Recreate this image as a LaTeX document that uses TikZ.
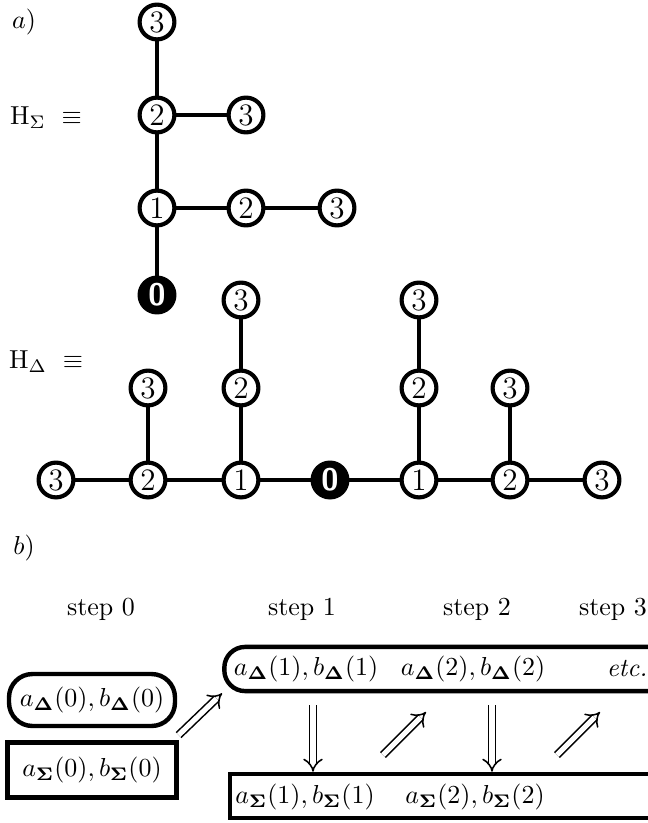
\documentclass[tikz,border=0pt]{standalone}
\usepackage{amsmath}
\usepackage{amssymb}
\usepackage{amsfonts}
\usepackage{tikz}
\usetikzlibrary{arrows.meta}

\begin{document}
\begin{tikzpicture}[x=0.385pt, y=-0.385pt,
		site/.style={circle, draw, line width=1.6pt, fill=white, inner sep=0pt, minimum size=13.4pt, font=\large},
		root/.style={site, fill=black, text=white, font=\sffamily\bfseries\large},
		bond/.style={line width=1.5pt},
		dbox/.style={draw, line width=1.7pt, rounded corners=9pt, inner sep=0pt},
		sbox/.style={draw, line width=1.7pt, inner sep=0pt},
		imp/.style={double, double distance=2pt, line width=0.6pt, -{Implies}}]
				\useasboundingbox (0,0) rectangle (648,823);
				
				% Labels
				\node (la) at (24, 22) {$a)$};
				\node (lb) at (24, 548) {$b)$};
				\node (hsig) at (46, 118) {$\mathrm{H}_\Sigma\ \equiv$};
				\node (hdel) at (46, 362) {$\mathrm{H}_\Delta\ \equiv$};
				
				% Sigma tree
				\node[root] (sig0) at (157, 295) {0};
				\node[site] (sig1) at (157, 208) {1};
				\node[site] (sig2) at (157, 115) {2};
				\node[site] (sig3) at (157, 22) {3};
				\node[site] (sig3b) at (246, 115) {3}; % right of 2
				\node[site] (sig2c) at (246, 208) {2}; % right of 1
				\node[site] (sig3c) at (337, 208) {3};
				
				\draw[bond] (sig0) -- (sig1) -- (sig2) -- (sig3);
				\draw[bond] (sig2) -- (sig3b);
				\draw[bond] (sig1) -- (sig2c) -- (sig3c);
				
				% Delta tree
				\node[root] (del0) at (330, 480) {0};
				\node[site] (delL1) at (241, 480) {1};
				\node[site] (delL2) at (148, 480) {2};
				\node[site] (delL3) at (56, 480) {3};
				\node[site] (delR1) at (419, 480) {1};
				\node[site] (delR2) at (510, 480) {2};
				\node[site] (delR3) at (602, 480) {3};
				\node[site] (delL2u) at (148, 388) {3};
				\node[site] (delL1u) at (241, 388) {2};
				\node[site] (delL1uu) at (241, 300) {3};
				\node[site] (delR1u) at (419, 388) {2};
				\node[site] (delR1uu) at (419, 300) {3};
				\node[site] (delR2u) at (510, 388) {3};
				
				\draw[bond] (delL3) -- (delL2) -- (delL1) -- (del0) -- (delR1) -- (delR2) -- (delR3);
				\draw[bond] (delL2) -- (delL2u);
				\draw[bond] (delL1) -- (delL1u) -- (delL1uu);
				\draw[bond] (delR1) -- (delR1u) -- (delR1uu);
				\draw[bond] (delR2) -- (delR2u);
				
				% Steps
				\node (st0) at (101, 609) {step 0};
				\node (st1) at (302, 609) {step 1};
				\node (st2) at (477, 609) {step 2};
				\node (st3) at (613, 609) {step 3};
				
				% Boxes
				\node[dbox, minimum width=63.9pt, minimum height=20pt] (d0) at (92, 700) {$a_{\boldsymbol\Delta}(0), b_{\boldsymbol\Delta}(0)$};
				\node[sbox, minimum width=65pt, minimum height=21.2pt] (s0) at (92, 770) {$a_{\boldsymbol\Sigma}(0), b_{\boldsymbol\Sigma}(0)$};
				\node[dbox, rounded corners=8pt, minimum width=183pt, minimum height=17pt] (d1) at (462, 669) {};
				\node[sbox, minimum width=181pt, minimum height=17pt] (s1) at (465, 796) {};
				
				\node (td1) at (306, 669) {$a_{\boldsymbol\Delta}(1), b_{\boldsymbol\Delta}(1)$};
				\node (td2) at (473, 669) {$a_{\boldsymbol\Delta}(2), b_{\boldsymbol\Delta}(2)$};
				\node (tetc) at (627, 669) {\textit{etc.}};
				\node (ts1) at (305, 797) {$a_{\boldsymbol\Sigma}(1), b_{\boldsymbol\Sigma}(1)$};
				\node (ts2) at (475, 797) {$a_{\boldsymbol\Sigma}(2), b_{\boldsymbol\Sigma}(2)$};
				
				% Arrows
				\coordinate (dn1) at (313, 705);
				\coordinate (dn2) at (492, 705);
				\coordinate (up1a) at (383, 755);
				\coordinate (up1b) at (426, 712);
				\coordinate (up2a) at (557, 755);
				\coordinate (up2b) at (600, 712);
				
				\draw[imp] ([yshift=2pt]s0.north east) -- (d1.south west);
				\draw[imp] (dn1) -- (dn1 |- s1.north);
				\draw[imp] (dn2) -- (dn2 |- s1.north);
				\draw[imp] (up1a) -- (up1b);
				\draw[imp] (up2a) -- (up2b);
			\end{tikzpicture}
\end{document}
